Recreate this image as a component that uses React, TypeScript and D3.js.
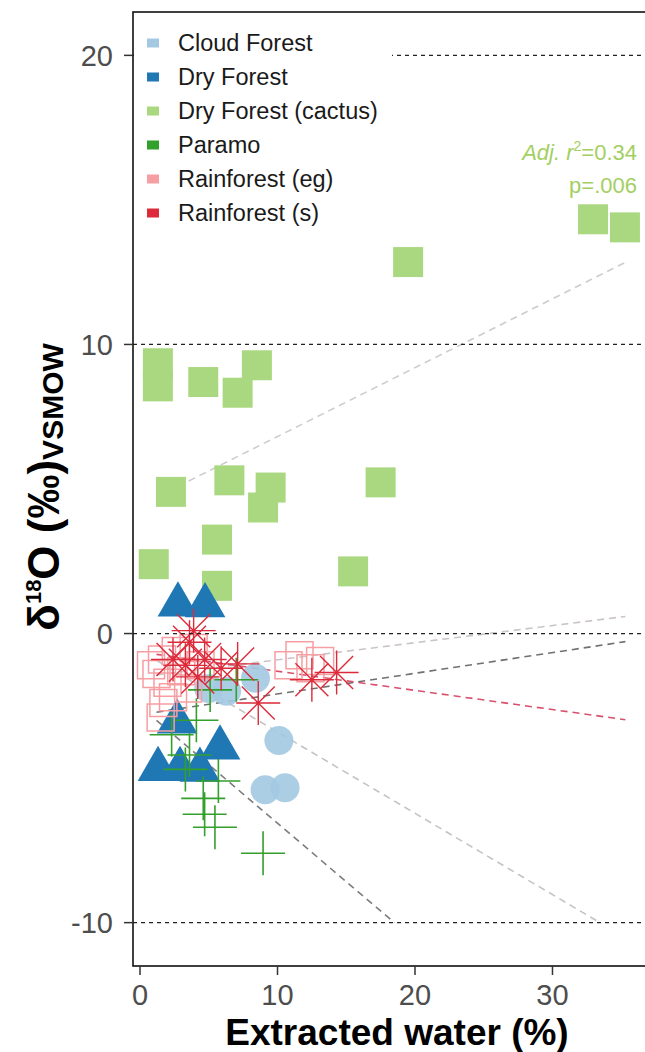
import React from "react";
import * as d3 from "d3";

const W = 645;
const H = 1052;

// ---- data ----
const groups = ["Cloud Forest", "Dry Forest", "Dry Forest (cactus)", "Paramo", "Rainforest (eg)", "Rainforest (s)"];

const cactusX = [1.3, 1.3, 4.6, 7.1, 8.5, 2.25, 6.5, 9.5, 8.95, 5.6, 1.0, 5.6, 19.5, 32.95, 35.27, 15.5, 17.5];
const cactusY = [9.35, 8.55, 8.7, 8.33, 9.28, 4.9, 5.3, 5.05, 4.36, 3.25, 2.4, 1.65, 12.85, 14.33, 14.05, 2.15, 5.23];

const cloudX = [5.0, 6.3, 8.4, 10.1, 9.1, 10.55];
const cloudY = [-1.9, -2.0, -1.55, -3.7, -5.4, -5.33];

const dryX = [2.76, 4.73, 2.7, 1.31, 2.91, 4.36, 5.82];
const dryY = [1.0, 0.97, -3.05, -4.69, -4.69, -4.72, -3.95];

const paramoX = [8.95, 5.45, 4.7, 4.6, 5.7, 3.3, 2.3, 4.1, 5.1, 7.0, 3.6];
const paramoY = [-7.6, -6.7, -6.25, -5.7, -5.1, -4.7, -3.5, -3.0, -1.95, -1.6, -4.2];

const rfEgX = [0.8, 1.2, 1.6, 2.0, 1.7, 1.5, 2.6, 3.0, 3.5, 3.9, 4.4, 2.4, 10.8, 11.6, 12.4, 13.1];
const rfEgY = [-1.1, -1.4, -0.9, -1.7, -2.4, -2.9, -0.6, -1.3, -1.9, -0.5, -1.1, -2.2, -1.1, -0.75, -1.2, -0.95];

const rfSX = [3.6, 4.7, 3.3, 5.9, 7.1, 2.4, 4.2, 8.6, 12.5, 14.3, 3.9];
const rfSY = [-0.3, -0.9, -1.1, -1.2, -1.05, -0.9, -1.5, -2.4, -1.6, -1.35, 0.1];

// regression (dashed) lines: start / end points
const fitNames = ["Dry Forest (cactus)", "Cloud Forest", "Paramo", "Rainforest (eg)", "Dry Forest", "Rainforest (s)"];
const fitX0 = [1.2, 1.2, 1.2, 1.2, 1.2, 1.2];
const fitY0 = [4.72, -0.93, -3.0, -1.43, -2.72, -0.72];
const fitX1 = [35.3, 33.45, 18.5, 35.3, 35.3, 35.3];
const fitY1 = [12.84, -10, -10, 0.59, -0.28, -2.98];

const refLines = [20, 10, 0, -10];
const xTicks = [0, 10, 20, 30];
const yTicks = [-10, 0, 10, 20];

// ---- styles ----
const colorOf: Record<string, string> = {
  "Cloud Forest": "#a3c9e2",
  "Dry Forest": "#1f78b4",
  "Dry Forest (cactus)": "#aad880",
  "Paramo": "#33a02c",
  "Rainforest (eg)": "#f79ea2",
  "Rainforest (s)": "#dc2a3a",
};
const fitColor: Record<string, string> = {
  "Dry Forest (cactus)": "#cdcdcd",
  "Cloud Forest": "#c4c4c4",
  "Paramo": "#7d7d7d",
  "Rainforest (eg)": "#cbc4c6",
  "Dry Forest": "#707070",
  "Rainforest (s)": "#d8506c",
};

const FONT = "'Liberation Sans', Arial, Helvetica, sans-serif";

const x = d3.scaleLinear().domain([-0.51, 37.02]).range([133, 649]);
const y = d3.scaleLinear().domain([-11.5, 21.5]).range([966, 12]);

function squarePath(cx: number, cy: number, s: number) {
  const h = s / 2;
  return `M${cx - h},${cy - h}H${cx + h}V${cy + h}H${cx - h}Z`;
}
function trianglePath(cx: number, cy: number, r: number) {
  const b = (r * Math.sqrt(3)) / 2;
  return `M${cx},${cy - r}L${cx + b},${cy + r / 2}L${cx - b},${cy + r / 2}Z`;
}
function crossPath(cx: number, cy: number, r: number) {
  return `M${cx - r},${cy}H${cx + r}M${cx},${cy - r}V${cy + r}`;
}
function starPath(cx: number, cy: number, r: number) {
  const d = r * 0.75;
  return (
    `M${cx - r},${cy}H${cx + r}M${cx},${cy - r}V${cy + r}` +
    `M${cx - d},${cy - d}L${cx + d},${cy + d}M${cx - d},${cy + d}L${cx + d},${cy - d}`
  );
}

export default function App() {
  const zip = (xs: number[], ys: number[]) => xs.map((v, i) => [v, ys[i]] as [number, number]);
  const line = d3.line<[number, number]>().x((d) => x(d[0])).y((d) => y(d[1]));

  const legendY0 = 43;
  const legendStep = 34;

  return (
    <svg
      width={W}
      height={H}
      viewBox={`0 0 ${W} ${H}`}
      style={{ position: "absolute", left: 0, top: 0, background: "#fff" }}
      fontFamily={FONT}
    >
      <rect x={0} y={0} width={W} height={H} fill="#fff" />
      <defs>
        <clipPath id="panel">
          <rect x={133} y={12} width={516} height={954} />
        </clipPath>
      </defs>

      <g clipPath="url(#panel)">
        {/* regression lines */}
        {fitNames.map((g, i) => (
          <path
            key={"fit" + i}
            d={line([
              [fitX0[i], fitY0[i]],
              [fitX1[i], fitY1[i]],
            ]) || ""}
            fill="none"
            stroke={fitColor[g]}
            strokeWidth={1.6}
            strokeDasharray="7 5"
          />
        ))}

        {/* cactus squares */}
        {zip(cactusX, cactusY).map(([a, b], i) => (
          <path key={"c" + i} d={squarePath(x(a), y(b), 30)} fill={colorOf["Dry Forest (cactus)"]} />
        ))}
        {/* cloud forest circles */}
        {zip(cloudX, cloudY).map(([a, b], i) => (
          <circle key={"cf" + i} cx={x(a)} cy={y(b)} r={14.5} fill={colorOf["Cloud Forest"]} opacity={0.9} />
        ))}
        {/* dry forest triangles */}
        {zip(dryX, dryY).map(([a, b], i) => (
          <path key={"d" + i} d={trianglePath(x(a), y(b), 23.5)} fill={colorOf["Dry Forest"]} />
        ))}
        {/* paramo crosses */}
        {zip(paramoX, paramoY).map(([a, b], i) => (
          <path key={"p" + i} d={crossPath(x(a), y(b), 22)} stroke={colorOf["Paramo"]} strokeWidth={1.6} fill="none" />
        ))}
        {/* rainforest (eg) open squares */}
        {zip(rfEgX, rfEgY).map(([a, b], i) => (
          <path key={"e" + i} d={squarePath(x(a), y(b), 27)} stroke={colorOf["Rainforest (eg)"]} strokeWidth={1.5} fill="none" />
        ))}
        {/* rainforest (s) stars */}
        {zip(rfSX, rfSY).map(([a, b], i) => (
          <path key={"s" + i} d={starPath(x(a), y(b), 22)} stroke={colorOf["Rainforest (s)"]} strokeWidth={1.4} fill="none" />
        ))}

        {/* reference lines */}
        {refLines.map((v) => (
          <line
            key={"h" + v}
            x1={133}
            x2={649}
            y1={y(v)}
            y2={y(v)}
            stroke="#222"
            strokeWidth={1.3}
            strokeDasharray="4 4"
          />
        ))}
      </g>

      {/* panel border */}
      <rect x={133} y={12} width={516} height={954} fill="none" stroke="#111" strokeWidth={1.6} />

      {/* y axis ticks */}
      {yTicks.map((t) => (
        <g key={"yt" + t}>
          <line x1={124} x2={133} y1={y(t)} y2={y(t)} stroke="#333" strokeWidth={1.5} />
          <text x={113} y={y(t)} dy="0.35em" textAnchor="end" fontSize={29} fill="#4d4d4d">
            {t}
          </text>
        </g>
      ))}
      {/* x axis ticks */}
      {xTicks.map((t) => (
        <g key={"xt" + t}>
          <line x1={x(t)} x2={x(t)} y1={966} y2={975} stroke="#333" strokeWidth={1.5} />
          <text x={x(t)} y={1005} textAnchor="middle" fontSize={29} fill="#4d4d4d">
            {t}
          </text>
        </g>
      ))}

      {/* axis titles */}
      <text x={397} y={1045} textAnchor="middle" fontSize={37} fontWeight="bold" fill="#000">
        Extracted water (%)
      </text>
      <text transform="translate(59,487) rotate(-90)" textAnchor="middle" fontWeight="bold" fill="#000" fontSize={44}>
        <tspan>δ</tspan>
        <tspan fontSize={22} dy={-18}>18</tspan>
        <tspan dy={18}>O (‰)</tspan>
        <tspan fontSize={30} dy={4}>VSMOW</tspan>
      </text>

      {/* legend */}
      <rect x={134} y={14} width={258} height={218} fill="#fff" />
      {groups.map((g, i) => (
        <g key={"lg" + i}>
          <rect x={147} y={legendY0 + i * legendStep - 4.5} width={12} height={9} fill={colorOf[g]} />
          <text x={178} y={legendY0 + i * legendStep} dy="0.36em" fontSize={23.5} fill="#1a1a1a">
            {g}
          </text>
        </g>
      ))}

      {/* annotation */}
      <text x={637} y={160} textAnchor="end" fontSize={22} fill="#a3cf62">
        <tspan fontStyle="italic">Adj. r</tspan>
        <tspan fontSize={14} dy={-9}>2</tspan>
        <tspan dy={9}>=0.34</tspan>
      </text>
      <text x={637} y={193} textAnchor="end" fontSize={22} fill="#a3cf62">
        p=.006
      </text>
    </svg>
  );
}
